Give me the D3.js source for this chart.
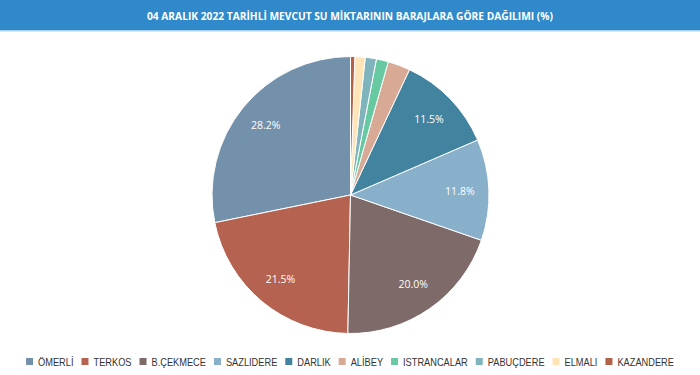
<!DOCTYPE html>
<html>
<head>
<meta charset="utf-8">
<script src="https://cdn.jsdelivr.net/npm/d3@7"></script>
<style>
  body { margin: 0; background: #fff; }
  svg { display: block; }
</style>
</head>
<body>
<svg id="chart"></svg>
<script>
// data
const titleText = "04 ARALIK 2022 TARİHLİ MEVCUT SU MİKTARININ BARAJLARA GÖRE DAĞILIMI (%)";
const dams   = ["ÖMERLİ", "TERKOS", "B.ÇEKMECE", "SAZLIDERE", "DARLIK", "ALİBEY", "ISTRANCALAR", "PABUÇDERE", "ELMALI", "KAZANDERE"];
const shares = [28.2, 21.5, 20.0, 11.8, 11.5, 2.6, 1.4, 1.3, 1.2, 0.5];
const colors = ["#7491ab", "#b56250", "#7e6a69", "#88b0cb", "#42839f", "#d8aa96", "#66c9a1", "#7fb4bd", "#fee4b6", "#b46149"];

const width = 700, height = 375;
const cx = 350.5, cy = 195, radius = 138.5;

const svg = d3.select("#chart")
    .attr("width", width)
    .attr("height", height);

// title bar
svg.append("rect")
    .attr("width", width).attr("height", 30)
    .attr("fill", "#2f89ca");
svg.append("rect")
    .attr("y", 30).attr("width", width).attr("height", 1.5)
    .attr("fill", "#a9d0ea");
svg.append("text")
    .attr("x", width / 2).attr("y", 19.5)
    .attr("text-anchor", "middle")
    .attr("fill", "#fff")
    .style("font-family", "'Open Sans', sans-serif")
    .style("font-weight", "bold")
    .style("font-size", "11px")
    .attr("textLength", 406)
    .attr("lengthAdjust", "spacingAndGlyphs")
    .text(titleText);

const color = d3.scaleOrdinal().domain(dams).range(colors);

const rows = dams.map((d, i) => ({name: d, value: shares[i]}));

// counter-clockwise from 12 o'clock, like the original
const pie = d3.pie().sort(null).value(d => d.value)
    .startAngle(0).endAngle(-2 * Math.PI);

const arc = d3.arc().innerRadius(0).outerRadius(radius);
const labelArc = d3.arc().innerRadius(radius * 0.79).outerRadius(radius * 0.79);

const g = svg.append("g").attr("transform", `translate(${cx},${cy})`);

const slices = g.selectAll("g.slice")
    .data(pie(rows))
    .enter().append("g").attr("class", "slice");

slices.append("path")
    .attr("d", arc)
    .attr("fill", d => color(d.data.name))
    .attr("stroke", "#fff")
    .attr("stroke-width", 1);

slices.filter(d => d.data.value > 5)
    .append("text")
    .attr("transform", d => `translate(${labelArc.centroid(d)})`)
    .attr("text-anchor", "middle")
    .attr("dy", "0.35em")
    .attr("fill", "#fff")
    .style("font-family", "'Open Sans', sans-serif")
    .style("font-size", "10.5px")
    .text(d => d.data.value.toFixed(1) + "%");

// legend, one row centred under the pie
const legend = svg.append("g").attr("class", "legend");
const box = 7, gapText = 5, gapItem = 8;
const squeeze = 0.88;
let x = 0;
const items = legend.selectAll("g.item")
    .data(dams)
    .enter().append("g").attr("class", "item");

items.each(function(d) {
  const it = d3.select(this);
  it.append("rect")
      .attr("width", box).attr("height", box)
      .attr("y", -box / 2 - 0.5)
      .attr("fill", color(d));
  const t = it.append("text")
      .attr("x", box + gapText)
      .attr("dy", "0.35em")
      .attr("fill", "#333")
      .style("font-family", "'Liberation Sans', Arial, sans-serif")
      .style("font-size", "10.5px")
      .text(d);
  const w = t.node().getComputedTextLength() * squeeze;
  t.attr("textLength", w).attr("lengthAdjust", "spacingAndGlyphs");
  it.attr("transform", `translate(${x},0)`);
  x += box + gapText + w + gapItem;
});
const total = x - gapItem;
legend.attr("transform", `translate(${(width - total) / 2},362)`);
</script>
</body>
</html>
